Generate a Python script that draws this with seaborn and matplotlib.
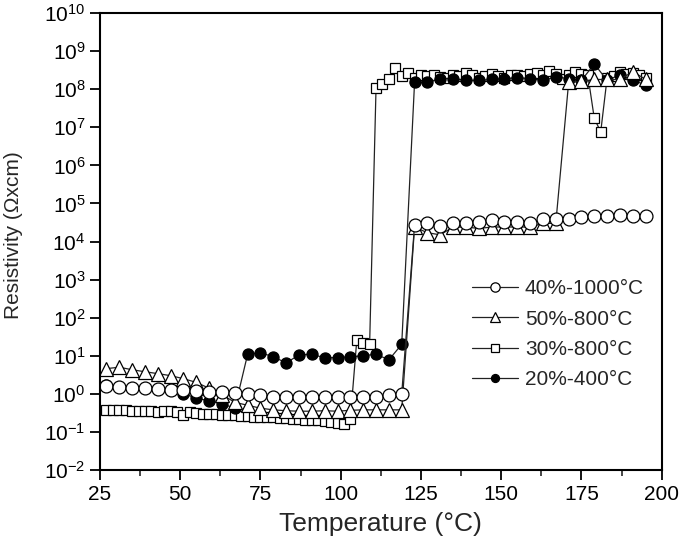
import matplotlib
matplotlib.use("Agg")
import matplotlib.pyplot as plt
import matplotlib.ticker as mticker
import seaborn as sns
import pandas as pd

# ---------------- data ----------------
T4 = [27, 31, 35, 39, 43, 47, 51, 55, 59, 63, 67, 71, 75, 79, 83, 87, 91, 95, 99,
      103, 107, 111, 115, 119, 123, 127, 131, 135, 139, 143, 147, 151, 155, 159,
      163, 167, 171, 175, 179, 183, 187, 191, 195]

T2 = [27, 29, 31, 33, 35, 37, 39, 41, 43, 45, 47, 49, 51, 53, 55, 57, 59, 61, 63,
      65, 67, 69, 71, 73, 75, 77, 79, 81, 83, 85, 87, 89, 91, 93, 95, 97, 99, 101,
      103, 105, 107, 109, 111, 113, 115, 117, 119, 121, 123, 125, 127, 129, 131,
      133, 135, 137, 139, 141, 143, 145, 147, 149, 151, 153, 155, 157, 159, 161,
      163, 165, 167, 169, 171, 173, 175, 177, 179, 181, 183, 185, 187, 189, 191,
      193, 195]

r_40_1000 = [1.6, 1.5, 1.45, 1.4, 1.35, 1.3, 1.25, 1.2, 1.15, 1.1, 1.05, 1.0, 0.94,
             0.85, 0.84, 0.83, 0.83, 0.82, 0.82, 0.83, 0.83, 0.85, 0.95, 1.0,
             2.7e4, 3.1e4, 2.6e4, 3.1e4, 3.1e4, 3.3e4, 3.7e4, 3.3e4, 3.3e4, 3.1e4,
             3.9e4, 3.9e4, 3.9e4, 4.4e4, 4.7e4, 4.7e4, 5.0e4, 4.7e4, 4.7e4]

r_50_800 = [4.6, 5.0, 4.3, 3.8, 3.4, 3.0, 2.5, 2.0, 1.4, 0.95, 0.6, 0.5, 0.42, 0.38,
            0.36, 0.35, 0.35, 0.36, 0.35, 0.37, 0.38, 0.38, 0.38, 0.38,
            2.4e4, 1.7e4, 1.5e4, 2.4e4, 2.4e4, 2.2e4, 2.4e4, 2.4e4, 2.4e4, 2.4e4,
            3.0e4, 3.0e4, 1.5e8, 1.6e8, 1.8e8, 1.8e8, 1.8e8, 2.9e8, 1.8e8]

r_30_800 = [0.38, 0.38, 0.37, 0.37, 0.36, 0.36, 0.35, 0.35, 0.34, 0.35, 0.36, 0.33,
            0.27, 0.34, 0.31, 0.30, 0.30, 0.29, 0.28, 0.28, 0.27, 0.26, 0.26, 0.25,
            0.25, 0.24, 0.24, 0.23, 0.23, 0.22, 0.22, 0.21, 0.21, 0.20, 0.19, 0.18,
            0.17, 0.16, 0.22, 26, 22, 20,
            1.1e8, 1.4e8, 1.8e8, 3.5e8, 2.2e8, 2.6e8, 2.0e8, 2.3e8, 2.2e8, 2.3e8,
            2.1e8, 2.0e8, 2.4e8, 2.2e8, 2.6e8, 2.3e8, 2.0e8, 2.2e8, 2.5e8, 2.2e8,
            2.0e8, 2.3e8, 2.4e8, 2.2e8, 2.5e8, 2.6e8, 2.4e8, 3.0e8, 2.5e8, 1.8e8,
            2.4e8, 2.8e8, 2.5e8, 2.3e8, 1.7e7, 7.6e6, 2.0e8, 2.2e8, 2.8e8, 2.5e8,
            2.7e8, 2.3e8, 2.0e8]

r_20_400 = [1.7, 1.5, 1.45, 1.4, 1.35, 1.3, 1.0, 0.78, 0.65, 0.55, 0.42, 11, 12, 9.4,
            6.5, 10.5, 11, 8.8, 9.0, 9.4, 10, 11, 7.8, 20,
            1.5e8, 1.5e8, 1.9e8, 1.9e8, 1.7e8, 1.7e8, 1.8e8, 1.9e8, 2.0e8, 1.9e8,
            1.7e8, 2.1e8, 1.9e8, 1.7e8, 4.6e8, 1.7e8, 2.4e8, 1.7e8, 1.3e8]

labels = ["40%-1000°C", "50%-800°C", "30%-800°C", "20%-400°C"]
x_ticks = [25, 50, 75, 100, 125, 150, 175, 200]

# ---------------- style ----------------
sns.set_style("ticks")
plt.rcParams['font.family'] = ['Liberation Sans', 'DejaVu Sans']
plt.rcParams['mathtext.fontset'] = 'custom'
plt.rcParams['mathtext.rm'] = 'Liberation Sans'
plt.rcParams['mathtext.it'] = 'Liberation Sans'

fig = plt.figure(figsize=(6.85, 5.45), dpi=100)
ax = fig.add_axes([0.146, 0.1376, 0.82, 0.8385])

series = [
    (T2, r_30_800, labels[2], 's', 'white', 7.2),
    (T4, r_20_400, labels[3], 'o', 'black', 8.0),
    (T4, r_50_800, labels[1], '^', 'white', 9.5),
    (T4, r_40_1000, labels[0], 'o', 'white', 9.3),
]
for xs, ys, lab, mk, fc, ms in series:
    df = pd.DataFrame({"T": xs, "R": ys})
    sns.lineplot(data=df, x="T", y="R", ax=ax, color="#222222", linewidth=0.9,
                 marker=mk, markersize=ms, markerfacecolor=fc,
                 markeredgecolor="black", markeredgewidth=0.9,
                 estimator=None, sort=False, label=lab)

ax.set_yscale("log")
ax.set_xlim(25, 200)
ax.set_ylim(1e-2, 1e10)
ax.set_xticks(x_ticks)
ax.xaxis.set_minor_locator(mticker.MultipleLocator(12.5))
ax.yaxis.set_major_locator(mticker.LogLocator(base=10, numticks=20))
ax.yaxis.set_minor_locator(mticker.NullLocator())
ax.yaxis.set_major_formatter(mticker.LogFormatterMathtext())
ax.tick_params(axis='both', which='major', direction='out', length=7, width=1.3,
               labelsize=15, colors='black')
ax.tick_params(axis='x', which='minor', direction='out', length=4, width=1.2)
for sp in ax.spines.values():
    sp.set_linewidth(1.5)
    sp.set_color('black')

ax.set_xlabel("Temperature (°C)", fontsize=19, labelpad=6)
ax.set_ylabel("Resistivity (Ωxcm)", fontsize=15)
ax.yaxis.set_label_coords(-0.137, 0.515)

h, l = ax.get_legend_handles_labels()
hl = dict(zip(l, h))
ax.legend([hl[x] for x in labels], labels, loc='center left',
          bbox_to_anchor=(0.662, 0.297), frameon=False, fontsize=15,
          borderpad=0, borderaxespad=0, handlelength=2.2, handletextpad=0.35,
          labelspacing=0.55, markerscale=0.72)

fig.savefig("out.png", dpi=100)
